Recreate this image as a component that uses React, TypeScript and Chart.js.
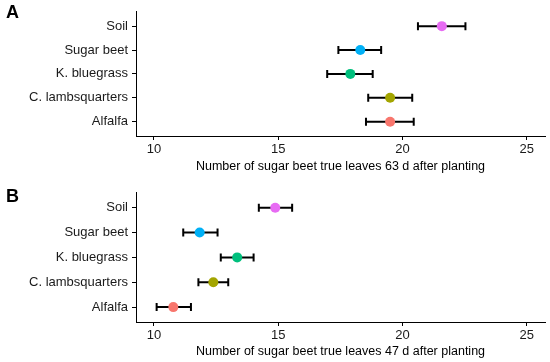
import React, { useEffect, useRef } from 'react';
import { Chart, registerables } from 'chart.js';

Chart.register(...registerables);

// Categories from bottom (y=1) to top (y=5)
const categories = ['Alfalfa', 'C. lambsquarters', 'K. bluegrass', 'Sugar beet', 'Soil'];
const pointColors = ['#F8766D', '#A3A500', '#00BF7D', '#00B0F6', '#E76BF3'];

// Panel A: 63 d after planting
const meanA = [19.5, 19.5, 17.9, 18.3, 21.58];
const lowA = [18.53, 18.62, 16.97, 17.42, 20.62];
const highA = [20.45, 20.39, 18.8, 19.14, 22.53];

// Panel B: 47 d after planting
const meanB = [10.78, 12.39, 13.35, 11.84, 14.88];
const lowB = [10.11, 11.79, 12.69, 11.18, 14.22];
const highB = [11.49, 12.99, 14.01, 12.56, 15.56];

const xTicks = [10, 15, 20, 25];
const titleA = 'Number of sugar beet true leaves 63 d after planting';
const titleB = 'Number of sugar beet true leaves 47 d after planting';

const FONT = '"Liberation Sans", Arial, sans-serif';

type PanelProps = {
  label: string;
  title: string;
  mean: number[];
  low: number[];
  high: number[];
  top: number;
  padTop: number;
  axisHeight: number;
  titlePad: number;
  labelBaseline: number;
};

const errorBarPlugin = (low: number[], high: number[]) => ({
  id: 'errorBars',
  beforeDatasetsDraw(chart: any) {
    const { ctx, scales } = chart;
    const xs = scales.x;
    const ys = scales.y;
    ctx.save();
    ctx.strokeStyle = '#000';
    ctx.lineWidth = 2;
    ctx.lineCap = 'butt';
    for (let i = 0; i < categories.length; i++) {
      const y = ys.getPixelForValue(i + 1);
      const x0 = xs.getPixelForValue(low[i]);
      const x1 = xs.getPixelForValue(high[i]);
      const h = 4;
      ctx.beginPath();
      ctx.moveTo(x0, y);
      ctx.lineTo(x1, y);
      ctx.moveTo(x0, y - h);
      ctx.lineTo(x0, y + h);
      ctx.moveTo(x1, y - h);
      ctx.lineTo(x1, y + h);
      ctx.stroke();
    }
    ctx.restore();
  },
});

const panelLabelPlugin = (label: string, baseline: number) => ({
  id: 'panelLabel',
  afterDraw(chart: any) {
    const { ctx } = chart;
    ctx.save();
    ctx.fillStyle = '#000';
    ctx.font = `bold 18px ${FONT}`;
    ctx.textAlign = 'left';
    ctx.textBaseline = 'alphabetic';
    ctx.fillText(label, 6, baseline);
    ctx.restore();
  },
});

function Panel(p: PanelProps) {
  const ref = useRef<HTMLCanvasElement | null>(null);
  useEffect(() => {
    if (!ref.current) return;
    const chart = new Chart(ref.current, {
      type: 'scatter',
      data: {
        datasets: [
          {
            data: categories.map((_, i) => ({ x: p.mean[i], y: i + 1 })),
            pointBackgroundColor: pointColors,
            pointBorderWidth: 0,
            pointRadius: 5,
            pointHoverRadius: 5,
          },
        ],
      },
      options: {
        responsive: false,
        animation: false,
        events: [],
        layout: { padding: { top: p.padTop, right: 5, left: 0, bottom: 0 } },
        plugins: {
          legend: { display: false },
          tooltip: { enabled: false },
        },
        scales: {
          x: {
            type: 'linear',
            min: 9.28,
            max: 25.73,
            afterBuildTicks: (s: any) => {
              s.ticks = xTicks.map((v) => ({ value: v }));
            },
            afterFit: (s: any) => {
              s.height = p.axisHeight;
            },
            grid: {
              display: true,
              drawOnChartArea: false,
              drawTicks: true,
              tickLength: 4,
              color: '#000',
              lineWidth: 1,
            },
            border: { display: true, color: '#000', width: 1 },
            ticks: {
              font: { family: FONT, size: 13 },
              color: '#1a1a1a',
              padding: 2,
              maxRotation: 0,
              callback: (v: any) => String(v),
            },
            title: {
              display: true,
              text: p.title,
              font: { family: FONT, size: 12.5 },
              color: '#000',
              padding: { top: 0, bottom: p.titlePad },
            },
          },
          y: {
            type: 'linear',
            min: 0.4,
            max: 5.6,
            afterBuildTicks: (s: any) => {
              s.ticks = categories.map((_, i) => ({ value: i + 1 }));
            },
            afterFit: (s: any) => {
              s.width = 136;
            },
            grid: {
              display: true,
              drawOnChartArea: false,
              drawTicks: true,
              tickLength: 4,
              color: '#000',
              lineWidth: 1,
            },
            border: { display: true, color: '#000', width: 1 },
            ticks: {
              font: { family: FONT, size: 13 },
              color: '#1a1a1a',
              padding: 4,
              callback: (v: any) => categories[Math.round(v) - 1] ?? '',
            },
          },
        },
      },
      plugins: [errorBarPlugin(p.low, p.high), panelLabelPlugin(p.label, p.labelBaseline)],
    } as any);
    return () => chart.destroy();
  }, []);
  return (
    <canvas
      ref={ref}
      width={550}
      height={181}
      style={{ position: 'absolute', left: 0, top: p.top, width: 550, height: 181, display: 'block' }}
    />
  );
}

export default function App() {
  return (
    <div style={{ position: 'fixed', left: 0, top: 0, width: 550, height: 362, background: '#fff' }}>
      <Panel label="A" title={titleA} mean={meanA} low={lowA} high={highA} top={0} padTop={6} axisHeight={45} titlePad={7} labelBaseline={17.5} />
      <Panel label="B" title={titleB} mean={meanB} low={lowB} high={highB} top={181} padTop={11} axisHeight={40} titlePad={2.5} labelBaseline={21} />
    </div>
  );
}
